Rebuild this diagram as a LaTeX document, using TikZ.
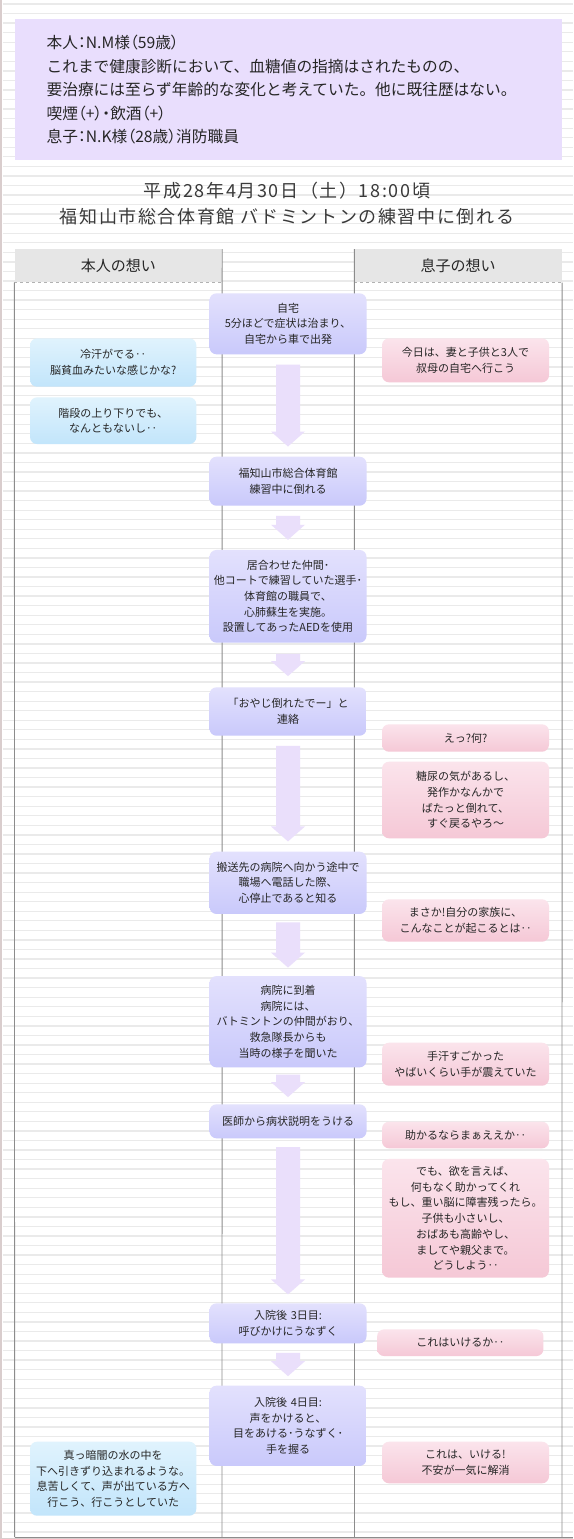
\documentclass[tikz,border=0pt]{standalone}
\usepackage{fontspec}
\setmainfont{Noto Sans CJK JP}
\usetikzlibrary{calc}
\definecolor{flowtop}{HTML}{E3E1FD}
\definecolor{flowbot}{HTML}{C9C9FB}
\definecolor{bluetop}{HTML}{E0F3FD}
\definecolor{bluebot}{HTML}{C2E5FB}
\definecolor{pinktop}{HTML}{FBE4EC}
\definecolor{pinkbot}{HTML}{F5C8D6}
\definecolor{arrowcol}{HTML}{EADFFB}
\definecolor{infocol}{HTML}{E9DEFD}
\definecolor{headcol}{HTML}{E6E6E6}
\definecolor{stripecol}{HTML}{EAEAEA}
\definecolor{colline}{HTML}{8C8C8C}
\definecolor{txtcol}{HTML}{262626}
\definecolor{titlecol}{HTML}{3A3A3A}
\definecolor{edgecol}{HTML}{D9CDCD}
\newcommand\boxfont{\fontsize{11pt}{15.7pt}\selectfont}
\newcommand\proptext[1]{{\addfontfeature{RawFeature=+palt}#1}}
\newcommand\flowarrow[3]{%
  \fill[arrowcol] ($(#1.south)+(-12,#3)$) -- ($(#2.north)+(-12,-#3-15)$) -- ($(#2.north)+(-17,-#3-15)$) -- ($(#2.north)+(0,-#3)$) -- ($(#2.north)+(17,-#3-15)$) -- ($(#2.north)+(12,-#3-15)$) -- ($(#1.south)+(12,#3)$) -- cycle;}
\begin{document}
\begin{tikzpicture}[x=1pt,y=-1pt,
  flow/.style={rounded corners=7pt, top color=flowtop, bottom color=flowbot, draw=none,
    minimum width=157pt, text width=157pt, align=center, inner sep=0pt, font=\boxfont, text=txtcol},
  bluebox/.style={rounded corners=7pt, top color=bluetop, bottom color=bluebot, draw=none,
    minimum width=166.3pt, text width=166.3pt, align=center, inner sep=0pt, font=\boxfont, text=txtcol},
  pinkbox/.style={rounded corners=7pt, top color=pinktop, bottom color=pinkbot, draw=none,
    minimum width=167pt, text width=167pt, align=center, inner sep=0pt, font=\boxfont, text=txtcol},
  headbox/.style={fill=headcol, minimum width=207.4pt, minimum height=33pt, inner sep=0pt,
    font=\fontsize{15pt}{18pt}\selectfont, text=txtcol},
  colrule/.style={draw=colline, line width=0.9pt},
  stripe/.style={draw=stripecol, line width=1.3pt}]
\useasboundingbox (0,0) rectangle (573,1539);
\fill[white] (0,0) rectangle (573,1539);
\foreach \i in {0,...,161} {\draw[stripe] (2.5,{4+\i*9.55}) -- (573,{4+\i*9.55});}
\fill[edgecol] (0,0) rectangle (2.2,1539);
\fill[edgecol] (0,1537.8) rectangle (573,1539);

% info box
\node[fill=infocol, minimum width=547.4pt, minimum height=141pt, text width=483.8pt,
  inner xsep=31.8pt, inner ysep=0pt, align=left, anchor=north west,
  font=\fontsize{15.7pt}{23.35pt}\selectfont, text=txtcol] (info) at (14.6,19)
  {\proptext{本人：N.M様（59歳）}\\
   これまで健康診断において、血糖値の指摘はされたものの、\\
   要治療には至らず年齢的な変化と考えていた。他に既往歴はない。\\
   \proptext{喫煙（+）・飲酒（+）}\\
   \proptext{息子：N.K様（28歳）}消防職員};

% title
\node[align=center, text=titlecol, font=\fontsize{18pt}{26pt}\selectfont\addfontfeature{LetterSpace=9}] (title) at (287,203.7)
  {平成28年4月30日（土）18:00頃\\福知山市総合体育館 バドミントンの練習中に倒れる};

% headers
\node[headbox] (hl) at (118.3,265.8) {本人の想い};
\node[headbox] (hr) at (458.2,265.8) {息子の想い};
\draw[draw=black!30, dash pattern=on 3pt off 3pt, line width=0.8pt] (hl.south west) -- (hl.south east);
\draw[draw=black!30, dash pattern=on 3pt off 3pt, line width=0.8pt] (hr.south west) -- (hr.south east);

% column lines
\draw[colrule] (hl.south west) -- (14.6,1537);
\draw[colrule] (hl.north east) -- (222,1537);
\draw[colrule] (hr.north west) -- (354.5,1537);
\draw[colrule] (hr.south east) -- (562,1537);
\draw[draw=black!45, line width=0.9pt] (14.6,1537) -- (573,1537);

% central flow
\node[flow, minimum height=61pt] (n1) at (288,323.8) {自宅\\5分ほどで症状は治まり、\\自宅から車で出発};
\node[flow, minimum height=49pt] (n2) at (288,481.2) {福知山市総合体育館\\練習中に倒れる};
\node[flow, minimum height=92.7pt] (n3) at (288,596.3) {居合わせた仲間･\\他コートで練習していた選手･\\体育館の職員で、\\心肺蘇生を実施。\\設置してあったAEDを使用};
\node[flow, minimum height=48.4pt] (n4) at (288,711.5) {「おやじ倒れたでー」と\\連絡};
\node[flow, minimum height=62.3pt] (n5) at (288,882.8) {搬送先の病院へ向かう途中で\\職場へ電話した際、\\心停止であると知る};
\node[flow, minimum height=91.3pt] (n6) at (288,1021.7) {病院に到着\\病院には、\\バトミントンの仲間がおり、\\救急隊長からも\\当時の様子を聞いた};
\node[flow, minimum height=34pt] (n7) at (288,1121.3) {医師から病状説明をうける};
\node[flow, minimum height=40pt] (n8) at (288,1323.3) {入院後 3日目:\\呼びかけにうなずく};
\node[flow, minimum height=80.3pt] (n9) at (288,1425.8) {入院後 4日目:\\声をかけると、\\目をあける･うなずく･\\手を握る};

\flowarrow{n1}{n2}{10}
\flowarrow{n2}{n3}{10}
\flowarrow{n3}{n4}{11}
\flowarrow{n4}{n5}{10}
\flowarrow{n5}{n6}{8.3}
\flowarrow{n6}{n7}{7}
\flowarrow{n7}{n8}{8.7}
\flowarrow{n8}{n9}{9.3}

% patient thoughts
\node[bluebox, minimum height=48.4pt] (b1) at (113.2,362.5) {冷汗がでる‥\\脳貧血みたいな感じかな?};
\node[bluebox, minimum height=46.7pt] (b2) at (113.2,420.7) {階段の上り下りでも、\\なんともないし‥};
\node[bluebox, minimum height=74pt] (b3) at (113.2,1478.7) {真っ暗闇の水の中を\\下へ引きずり込まれるような。\\息苦しくて、声が出ている方へ\\行こう、行こうとしていた};

% son thoughts
\node[pinkbox, minimum height=44pt] (p1) at (465.5,360.3) {今日は、妻と子供と3人で\\叔母の自宅へ行こう};
\node[pinkbox, minimum height=27.4pt] (p2) at (465.5,738) {えっ?何?};
\node[pinkbox, minimum height=76.6pt] (p3) at (465.5,800) {糖尿の気があるし、\\発作かなんかで\\ばたっと倒れて、\\すぐ戻るやろ〜};
\node[pinkbox, minimum height=42.4pt] (p4) at (465.5,920.5) {まさか!自分の家族に、\\こんなことが起こるとは‥};
\node[pinkbox, minimum height=43pt] (p5) at (465.5,1064.2) {手汗すごかった\\やばいくらい手が震えていた};
\node[pinkbox, minimum height=26.6pt] (p6) at (465.5,1135) {助かるならまぁええか‥};
\node[pinkbox, minimum height=118.7pt] (p7) at (465.5,1218.3) {でも、欲を言えば、\\何もなく助かってくれ\\もし、重い脳に障害残ったら。\\子供も小さいし、\\おばあも高齢やし、\\ましてや親父まで。\\どうしよう‥};
\node[pinkbox, minimum width=166.3pt, text width=166.3pt, minimum height=26.7pt] (p8) at (460.3,1342.7) {これはいけるか‥};
\node[pinkbox, minimum height=41.6pt] (p9) at (465.5,1462.5) {これは、いける!\\不安が一気に解消};
\end{tikzpicture}
\end{document}
